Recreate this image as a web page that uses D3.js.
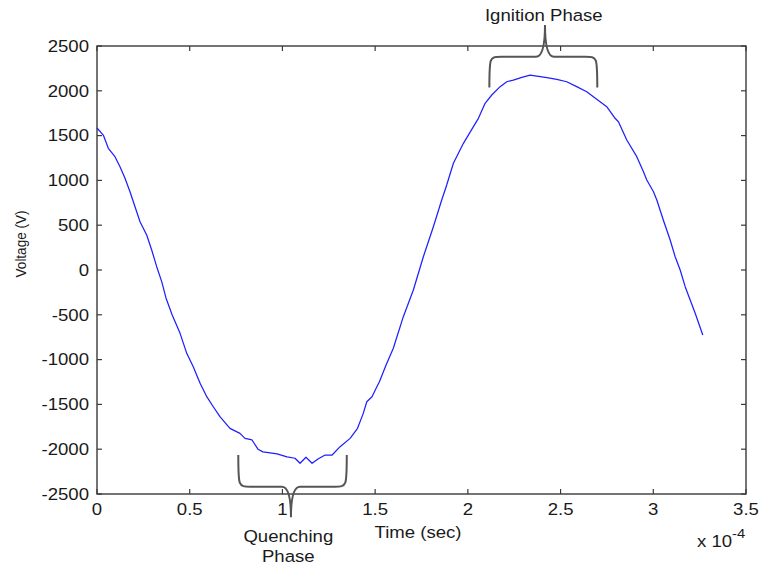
<!DOCTYPE html>
<html>
<head>
<meta charset="utf-8">
<script src="https://cdn.jsdelivr.net/npm/d3@7"></script>
<style>
  body { margin: 0; background: #fff; }
  svg { display: block; }
  text { font-family: "Liberation Sans", Arial, sans-serif; fill: #1a1a1a; }
</style>
</head>
<body>
<svg id="chart" width="759" height="567"></svg>
<script>
// Time in units of 1e-4 s
const timeE4 = [0, 0.034, 0.061, 0.097, 0.124, 0.151, 0.178, 0.205, 0.232, 0.268, 0.295, 0.322, 0.349, 0.372, 0.405, 0.448, 0.484, 0.519, 0.556, 0.592, 0.627, 0.663, 0.717, 0.771, 0.798, 0.836, 0.868, 0.895, 0.971, 1.025, 1.068, 1.095, 1.127, 1.160, 1.192, 1.230, 1.268, 1.311, 1.365, 1.405, 1.436, 1.455, 1.483, 1.510, 1.523, 1.559, 1.598, 1.652, 1.706, 1.760, 1.814, 1.859, 1.886, 1.922, 1.976, 2.030, 2.057, 2.093, 2.129, 2.174, 2.210, 2.245, 2.291, 2.336, 2.372, 2.426, 2.480, 2.533, 2.587, 2.641, 2.695, 2.749, 2.794, 2.812, 2.857, 2.911, 2.947, 2.965, 3.001, 3.019, 3.054, 3.091, 3.118, 3.145, 3.172, 3.199, 3.226, 3.267];
const voltage = [1585, 1506, 1358, 1265, 1153, 1023, 874, 706, 539, 390, 223, 37, -130, -312, -500, -707, -930, -1079, -1265, -1414, -1526, -1637, -1767, -1823, -1879, -1897, -2000, -2030, -2053, -2085, -2101, -2157, -2090, -2157, -2110, -2065, -2065, -1972, -1879, -1767, -1600, -1470, -1414, -1300, -1247, -1060, -874, -521, -223, 148, 483, 781, 949, 1191, 1414, 1600, 1693, 1860, 1953, 2046, 2101, 2120, 2150, 2176, 2165, 2146, 2128, 2101, 2046, 1990, 1905, 1823, 1693, 1655, 1451, 1265, 1097, 1004, 874, 781, 558, 335, 148, 0, -186, -335, -483, -725];

const xTicks = [0, 0.5, 1, 1.5, 2, 2.5, 3, 3.5];
const xTickLabels = ["0", "0.5", "1", "1.5", "2", "2.5", "3", "3.5"];
const yTicks = [-2500, -2000, -1500, -1000, -500, 0, 500, 1000, 1500, 2000, 2500];
const yTickLabels = ["-2500", "-2000", "-1500", "-1000", "-500", "0", "500", "1000", "1500", "2000", "2500"];

// Annotation braces: [start, tip, end] in time units; [ends, bar, tip] in volts
const ignitionX = [2.116, 2.416, 2.698];
const ignitionY = [2038, 2380, 2734];
const quenchX = [0.762, 1.046, 1.347];
const quenchY = [-2065, -2418, -2760];

const W = 759, H = 567;
const m = { left: 97, right: 13, top: 46, bottom: 73 };
const svg = d3.select("#chart");

const x = d3.scaleLinear().domain([0, 3.5]).range([m.left, W - m.right]);
const y = d3.scaleLinear().domain([-2500, 2500]).range([H - m.bottom, m.top]);

const axisColor = "#3a3a3a";
const tickLen = 5;
const FS = 16.3, SX = 1.14;

function label(px, py, str, anchor, size) {
  return svg.append("text")
    .attr("transform", `translate(${px},${py}) scale(${SX},1)`)
    .attr("text-anchor", anchor || "middle")
    .attr("font-size", size || FS)
    .text(str);
}

// Frame
svg.append("rect")
  .attr("x", x(0)).attr("y", y(2500))
  .attr("width", x(3.5) - x(0)).attr("height", y(-2500) - y(2500))
  .attr("fill", "none").attr("stroke", axisColor).attr("stroke-width", 1.4);

// X ticks (bottom & top, inward)
const gx = svg.append("g");
xTicks.forEach((t, i) => {
  gx.append("line").attr("x1", x(t)).attr("x2", x(t))
    .attr("y1", y(-2500)).attr("y2", y(-2500) - tickLen)
    .attr("stroke", axisColor).attr("stroke-width", 1.2);
  gx.append("line").attr("x1", x(t)).attr("x2", x(t))
    .attr("y1", y(2500)).attr("y2", y(2500) + tickLen)
    .attr("stroke", axisColor).attr("stroke-width", 1.2);
  label(x(t), 515, xTickLabels[i], "middle");
});

// Y ticks (left & right, inward)
const gy = svg.append("g");
yTicks.forEach((v, i) => {
  gy.append("line").attr("x1", x(0)).attr("x2", x(0) + tickLen)
    .attr("y1", y(v)).attr("y2", y(v))
    .attr("stroke", axisColor).attr("stroke-width", 1.2);
  gy.append("line").attr("x1", x(3.5)).attr("x2", x(3.5) - tickLen)
    .attr("y1", y(v)).attr("y2", y(v))
    .attr("stroke", axisColor).attr("stroke-width", 1.2);
  label(x(0) - 8, y(v) + 5.8, yTickLabels[i], "end");
});

// Axis labels
label(418, 538, "Time (sec)", "middle");
svg.append("text").attr("transform", `translate(26,244) scale(${SX},1) rotate(-90)`)
  .attr("text-anchor", "middle").attr("font-size", 13.5).text("Voltage (V)");

label(697, 546.7, "x 10", "start");
label(732, 537.5, "-4", "start", 13);

// Data line
const line = d3.line().x(d => x(d[0])).y(d => y(d[1]));
const pts = timeE4.map((t, i) => [t, voltage[i]]);
svg.append("path").datum(pts)
  .attr("d", line).attr("fill", "none")
  .attr("stroke", "#1f1fff").attr("stroke-width", 1.25)
  .attr("stroke-linejoin", "round");

// Braces
function brace(xs, ys) {
  const x1 = x(xs[0]), xm = x(xs[1]), x2 = x(xs[2]);
  const yE = y(ys[0]), yB = y(ys[1]), yT = y(ys[2]);
  const r = 12, s = 9;
  const p = d3.path();
  p.moveTo(x1, yE);
  p.bezierCurveTo(x1, yB, x1, yB, x1 + r, yB);
  p.lineTo(xm - s, yB);
  p.quadraticCurveTo(xm, yB, xm, yT);
  p.quadraticCurveTo(xm, yB, xm + s, yB);
  p.lineTo(x2 - r, yB);
  p.bezierCurveTo(x2, yB, x2, yB, x2, yE);
  svg.append("path").attr("d", p.toString())
    .attr("fill", "none").attr("stroke", "#555").attr("stroke-width", 2);
}
brace(ignitionX, ignitionY);
brace(quenchX, quenchY);

label(543.8, 21, "Ignition Phase", "middle");
label(288.3, 541.7, "Quenching", "middle");
label(288.3, 561.7, "Phase", "middle");
</script>
</body>
</html>
